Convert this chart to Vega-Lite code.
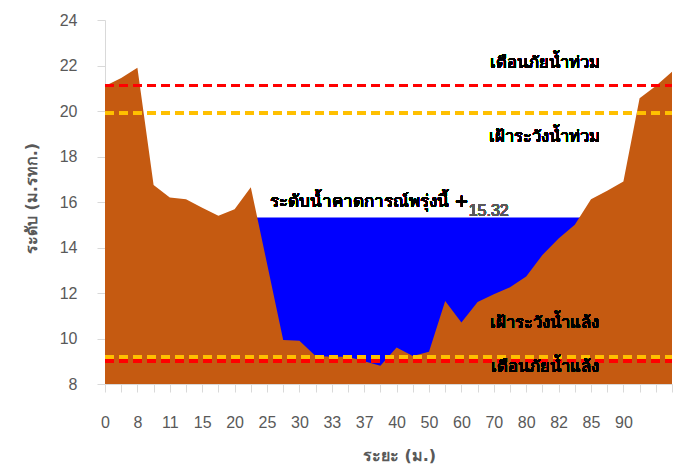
{
  "$schema": "https://vega.github.io/schema/vega-lite/v6.json",
  "width": 567,
  "height": 364,
  "autosize": {"type": "none"},
  "padding": {"left": 105, "top": 20, "right": 8, "bottom": 88},
  "background": "white",
  "config": {
    "view": {"stroke": null},
    "axis": {
      "grid": false,
      "domainColor": "#d9d9d9",
      "tickColor": "#d9d9d9",
      "labelColor": "#595959",
      "labelFont": "Liberation Sans",
      "labelFontSize": 16,
      "titleColor": "#595959",
      "titleFont": "Tahoma, DejaVu Sans, sans-serif",
      "titleFontSize": 16,
      "titleFontWeight": "bold"
    },
    "axisX": {"labelOverlap": false, "labelFlush": false, "labelBound": false},
    "text": {"font": "Tahoma, DejaVu Sans, sans-serif", "fontWeight": "normal"}
  },
  "data": {
    "values": [
      {"k": 0, "terrain": 21.1, "water": null},
      {"k": 1, "terrain": 21.45, "water": null},
      {"k": 2, "terrain": 21.9, "water": null},
      {"k": 3, "terrain": 16.75, "water": null},
      {"k": 4, "terrain": 16.2, "water": null},
      {"k": 5, "terrain": 16.12, "water": null},
      {"k": 6, "terrain": 15.75, "water": null},
      {"k": 7, "terrain": 15.4, "water": null},
      {"k": 8, "terrain": 15.68, "water": null},
      {"k": 9, "terrain": 16.65, "water": 15.32},
      {"k": 10, "terrain": 13.3, "water": 15.32},
      {"k": 11, "terrain": 9.93, "water": 15.32},
      {"k": 12, "terrain": 9.9, "water": 15.32},
      {"k": 13, "terrain": 9.23, "water": 15.32},
      {"k": 14, "terrain": 9.2, "water": 15.32},
      {"k": 15, "terrain": 9.2, "water": 15.32},
      {"k": 16, "terrain": 9.0, "water": 15.32},
      {"k": 17, "terrain": 8.8, "water": 15.32},
      {"k": 18, "terrain": 9.6, "water": 15.32},
      {"k": 19, "terrain": 9.23, "water": 15.32},
      {"k": 20, "terrain": 9.42, "water": 15.32},
      {"k": 21, "terrain": 11.65, "water": 15.32},
      {"k": 22, "terrain": 10.7, "water": 15.32},
      {"k": 23, "terrain": 11.6, "water": 15.32},
      {"k": 24, "terrain": 11.95, "water": 15.32},
      {"k": 25, "terrain": 12.25, "water": 15.32},
      {"k": 26, "terrain": 12.72, "water": 15.32},
      {"k": 27, "terrain": 13.67, "water": 15.32},
      {"k": 28, "terrain": 14.4, "water": 15.32},
      {"k": 29, "terrain": 15.0, "water": 15.32},
      {"k": 30, "terrain": 16.12, "water": 15.32},
      {"k": 31, "terrain": 16.5, "water": null},
      {"k": 32, "terrain": 16.9, "water": null},
      {"k": 33, "terrain": 20.56, "water": null},
      {"k": 34, "terrain": 21.1, "water": null},
      {"k": 35, "terrain": 21.73, "water": null}
    ]
  },
  "encoding": {
    "x": {
      "field": "k", "type": "quantitative",
      "scale": {"domain": [0, 35], "nice": false, "zero": false},
      "axis": {
        "title": "ระยะ (ม.)",
        "values": [0,1,2,3,4,5,6,7,8,9,10,11,12,13,14,15,16,17,18,19,20,21,22,23,24,25,26,27,28,29,30,31,32,33,34,35],
        "labelExpr": "datum.value % 2 == 0 && datum.value <= 32 ? ['0','8','11','15','20','25','30','33','37','40','50','60','70','80','82','85','90'][datum.value / 2] : ''",
        "labelFlush": false,
        "labelOverlap": false,
        "tickSize": 8,
        "labelPadding": 22,
        "titleX": 294,
        "titleY": 71,
        "titleBaseline": "middle"
      }
    }
  },
  "layer": [
    {
      "transform": [{"filter": "datum.water != null"}],
      "mark": {"type": "area", "color": "#0000FF", "opacity": 1, "clip": true},
      "encoding": {
        "y": {
          "field": "water", "type": "quantitative",
          "scale": {"domain": [8, 24], "nice": false, "zero": false},
          "axis": {
            "title": "ระดับ (ม.รทก.)",
            "values": [8,10,12,14,16,18,20,22,24],
            "tickSize": 8,
            "labelPadding": 20,
            "titleX": -74,
            "titleY": 178,
            "titleAlign": "center",
            "titleBaseline": "middle"
          }
        },
        "y2": {"datum": 8}
      }
    },
    {
      "mark": {"type": "area", "color": "#C55A11", "opacity": 1, "clip": true},
      "encoding": {
        "y": {"field": "terrain", "type": "quantitative", "title": "ระดับ (ม.รทก.)"},
        "y2": {"datum": 8}
      }
    },
    {
      "mark": {"type": "rule", "color": "#FF0000", "strokeWidth": 3, "strokeDash": [9, 5]},
      "encoding": {"x": {"value": 0}, "x2": {"value": 567}, "y": {"datum": 21.12, "type": "quantitative", "title": "ระดับ (ม.รทก.)"}}
    },
    {
      "mark": {"type": "rule", "color": "#FFC000", "strokeWidth": 3, "strokeDash": [9, 5]},
      "encoding": {"x": {"value": 0}, "x2": {"value": 567}, "y": {"datum": 19.9, "type": "quantitative", "title": "ระดับ (ม.รทก.)"}}
    },
    {
      "mark": {"type": "rule", "color": "#FF0000", "strokeWidth": 3, "strokeDash": [9, 5]},
      "encoding": {"x": {"value": 0}, "x2": {"value": 567}, "y": {"datum": 9.0, "type": "quantitative", "title": "ระดับ (ม.รทก.)"}}
    },
    {
      "mark": {"type": "rule", "color": "#FFC000", "strokeWidth": 3, "strokeDash": [9, 5]},
      "encoding": {"x": {"value": 0}, "x2": {"value": 567}, "y": {"datum": 9.2, "type": "quantitative", "title": "ระดับ (ม.รทก.)"}}
    },
    {
      "mark": {"type": "text", "text": "เตือนภัยน้ำท่วม", "fontSize": 16.5, "color": "#000000", "align": "center", "baseline": "middle"},
      "encoding": {"x": {"datum": 27.16, "type": "quantitative"}, "y": {"datum": 22.1, "type": "quantitative", "title": "ระดับ (ม.รทก.)"}}
    },
    {
      "mark": {"type": "text", "text": "เฝ้าระวังน้ำท่วม", "fontSize": 16.5, "color": "#000000", "align": "center", "baseline": "middle"},
      "encoding": {"x": {"datum": 27.16, "type": "quantitative"}, "y": {"datum": 18.86, "type": "quantitative", "title": "ระดับ (ม.รทก.)"}}
    },
    {
      "mark": {"type": "text", "text": "ระดับน้ำคาดการณ์พรุ่งนี้ +", "fontSize": 17, "color": "#000000", "align": "left", "baseline": "alphabetic"},
      "encoding": {"x": {"datum": 10.19, "type": "quantitative"}, "y": {"datum": 15.78, "type": "quantitative", "title": "ระดับ (ม.รทก.)"}}
    },
    {
      "mark": {"type": "text", "text": "15.32", "font": "Liberation Sans", "fontSize": 16, "color": "#595959", "align": "left", "baseline": "alphabetic"},
      "encoding": {"x": {"datum": 22.45, "type": "quantitative"}, "y": {"datum": 15.38, "type": "quantitative", "title": "ระดับ (ม.รทก.)"}}
    },
    {
      "mark": {"type": "text", "text": "เฝ้าระวังน้ำแล้ง", "fontSize": 16.5, "color": "#000000", "align": "center", "baseline": "middle"},
      "encoding": {"x": {"datum": 27.16, "type": "quantitative"}, "y": {"datum": 10.68, "type": "quantitative", "title": "ระดับ (ม.รทก.)"}}
    },
    {
      "mark": {"type": "text", "text": "เตือนภัยน้ำแล้ง", "fontSize": 16.5, "color": "#000000", "align": "center", "baseline": "middle"},
      "encoding": {"x": {"datum": 27.16, "type": "quantitative"}, "y": {"datum": 8.75, "type": "quantitative", "title": "ระดับ (ม.รทก.)"}}
    }
  ]
}
